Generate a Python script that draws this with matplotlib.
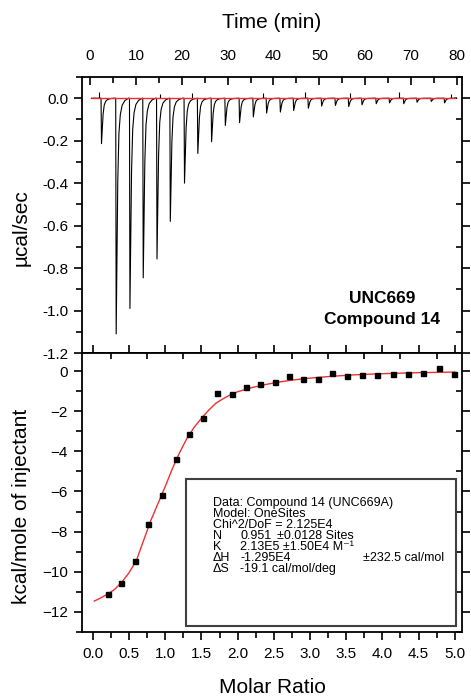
import numpy as np
import matplotlib
matplotlib.use("Agg")
import matplotlib.pyplot as plt
from matplotlib.patches import Rectangle
from matplotlib.ticker import MultipleLocator

plt.rcParams["font.family"] = ["Liberation Sans", "DejaVu Sans"]

# raw thermogram: injection times (min) and peak depths (ucal/sec)
inj_time = [2.4, 5.6, 8.6, 11.5, 14.5, 17.4, 20.5, 23.4, 26.4, 29.4, 32.5, 35.5, 38.4,
            41.4, 44.3, 47.5, 50.4, 53.4, 56.3, 59.2, 62.3, 65.2, 68.3, 71.2, 74.3, 77.2]
inj_depth = [-0.214, -1.11, -0.99, -0.846, -0.757, -0.58, -0.40, -0.26, -0.205, -0.128,
             -0.115, -0.088, -0.070, -0.065, -0.058, -0.047, -0.037, -0.034, -0.039,
             -0.031, -0.026, -0.022, -0.026, -0.019, -0.015, -0.022]
# small upward blips on the raw trace
blip_time = [2.0, 15.3, 22.3, 37.8, 46.8, 56.6, 67.3, 78.8]
blip_height = [0.03, 0.02, 0.025, 0.025, 0.03, 0.025, 0.03, 0.02]
# shape of one injection peak (offset in min, fraction of depth)
peak_dt = [0.0, 0.1, 0.45, 0.7, 1.0, 1.4, 2.0, 2.8]
peak_frac = [0.0, 1.0, 0.35, 0.15, 0.07, 0.03, 0.01, 0.0]

# integrated heats
molar_ratio = [0.207, 0.386, 0.579, 0.763, 0.956, 1.145, 1.328, 1.521, 1.714, 1.917,
               2.110, 2.308, 2.510, 2.712, 2.905, 3.112, 3.310, 3.517, 3.724, 3.931,
               4.142, 4.353, 4.566, 4.777, 4.988]
heat = [-11.10, -10.54, -9.46, -7.61, -6.20, -4.40, -3.16, -2.36, -1.09, -1.12,
        -0.79, -0.66, -0.55, -0.25, -0.41, -0.41, -0.10, -0.26, -0.21, -0.18,
        -0.16, -0.13, -0.08, 0.15, -0.13]
# fitted curve
fit_x = [0.02, 0.1, 0.2, 0.3, 0.4, 0.5, 0.6, 0.7, 0.8, 0.9, 1.0, 1.1, 1.2, 1.3, 1.4,
         1.5, 1.6, 1.7, 1.8, 1.9, 2.0, 2.2, 2.4, 2.6, 2.8, 3.0, 3.3, 3.6, 4.0, 4.5, 5.0]
fit_y = [-11.46, -11.32, -11.12, -10.88, -10.52, -10.05, -9.45, -8.45, -7.45, -6.6,
         -5.75, -4.85, -4.05, -3.35, -2.8, -2.35, -1.95, -1.6, -1.38, -1.18, -1.03,
         -0.82, -0.66, -0.53, -0.43, -0.35, -0.26, -0.19, -0.13, -0.08, -0.05]

info_lines = [
    ("Data: Compound 14 (UNC669A)", None, None),
    ("Model: OneSites", None, None),
    ("Chi^2/DoF = 2.125E4", None, None),
    ("N", "0.951", "\u00b10.0128 Sites"),
    ("K", "2.13E5 \u00b11.50E4 M\u207b\u00b9", None),
    ("\u0394H", "-1.295E4", "\u00b1232.5 cal/mol"),
    ("\u0394S", "-19.1 cal/mol/deg", None),
]

fig = plt.figure(figsize=(4.71, 6.96), dpi=100)
ax1 = fig.add_axes([0.1741, 0.4928, 0.8068, 0.3966])
ax2 = fig.add_axes([0.1741, 0.0920, 0.8068, 0.4008])

# --- top panel: raw data
tt = [0.3]
yy = [0.0]
for t0, d in zip(inj_time, inj_depth):
    tt.extend(t0 + np.array(peak_dt))
    yy.extend(d * np.array(peak_frac))
tt.append(79.5)
yy.append(0.0)
ax1.plot(tt, yy, color="black", lw=0.8)
ax1.vlines(blip_time, 0, blip_height, color="black", lw=0.8)
ax1.plot([0.4, 79.5], [0, 0], color="#f03030", lw=1.0)

ax1.set_xlim(-1.75, 81.1)
ax1.set_ylim(-1.2, 0.1)
ax1.xaxis.set_major_locator(MultipleLocator(10))
ax1.xaxis.set_minor_locator(MultipleLocator(5))
ax1.yaxis.set_minor_locator(MultipleLocator(0.1))
yt = np.arange(-1.2, 0.01, 0.2)
ax1.set_yticks(yt)
ax1.set_yticklabels(["%.1f" % v if abs(v) > 1e-9 else "0.0" for v in yt])
ax1.tick_params(axis="x", which="both", bottom=False, top=True, labelbottom=False,
                labeltop=True, direction="in", pad=10)
ax1.tick_params(axis="y", which="both", left=True, right=True, direction="out")
ax1.xaxis.set_label_position("top")
ax1.set_xlabel("Time (min)", fontsize=15, labelpad=15)
ax1.set_ylabel("\u00b5cal/sec", fontsize=15)
ax1.yaxis.set_label_coords(-0.134, 0.455)
ax1.text(0.79, 0.16, "UNC669\nCompound 14", transform=ax1.transAxes, ha="center",
         va="center", fontsize=12.5, fontweight="bold", linespacing=1.5)

# --- bottom panel: integrated heats
ax2.plot(fit_x, fit_y, color="#f03030", lw=1.0, zorder=2)
ax2.plot(molar_ratio, heat, "s", color="black", ms=3.6, zorder=3)
ax2.set_xlim(-0.15, 5.1)
ax2.set_ylim(-13, 0.9)
ax2.xaxis.set_major_locator(MultipleLocator(0.5))
ax2.xaxis.set_minor_locator(MultipleLocator(0.25))
ax2.yaxis.set_major_locator(MultipleLocator(2))
ax2.yaxis.set_minor_locator(MultipleLocator(1))
ax2.tick_params(axis="x", which="both", top=True, direction="out")
ax2.tick_params(axis="y", which="both", right=True, direction="out")
ax2.set_xlabel("Molar Ratio", fontsize=15, labelpad=12)
ax2.set_ylabel("kcal/mole of injectant", fontsize=15)
ax2.yaxis.set_label_coords(-0.134, 0.45)

for ax in (ax1, ax2):
    for s in ax.spines.values():
        s.set_linewidth(1.3)
    ax.tick_params(which="major", length=6, width=1.2, labelsize=11)
    ax.tick_params(which="minor", length=4, width=1.2)
    for t in ax.xaxis.get_major_ticks() + ax.xaxis.get_minor_ticks():
        t.tick2line.set_marker(3)  # top ticks point inward
    for t in ax.yaxis.get_major_ticks() + ax.yaxis.get_minor_ticks():
        t.tick2line.set_marker(0)  # right ticks point inward

ax2.tick_params(axis="x", pad=5)
ax1.tick_params(axis="y", pad=4)
ax2.tick_params(axis="y", pad=4)

# info box
ax2.add_patch(Rectangle((0.274, 0.0215), 0.71, 0.5265, transform=ax2.transAxes,
                        fill=False, edgecolor="#404040", lw=1.5, zorder=4))
y0 = 0.4613
dy = 0.0390
for i, (a, b, c) in enumerate(info_lines):
    y = y0 - i * dy
    ax2.text(0.345, y, a, transform=ax2.transAxes, fontsize=9, va="center")
    if b:
        ax2.text(0.416, y, b, transform=ax2.transAxes, fontsize=9, va="center")
    if c:
        cx = 0.512 if i == 3 else 0.74
        ax2.text(cx, y, c, transform=ax2.transAxes, fontsize=9, va="center")

fig.savefig("out.png", dpi=100)
